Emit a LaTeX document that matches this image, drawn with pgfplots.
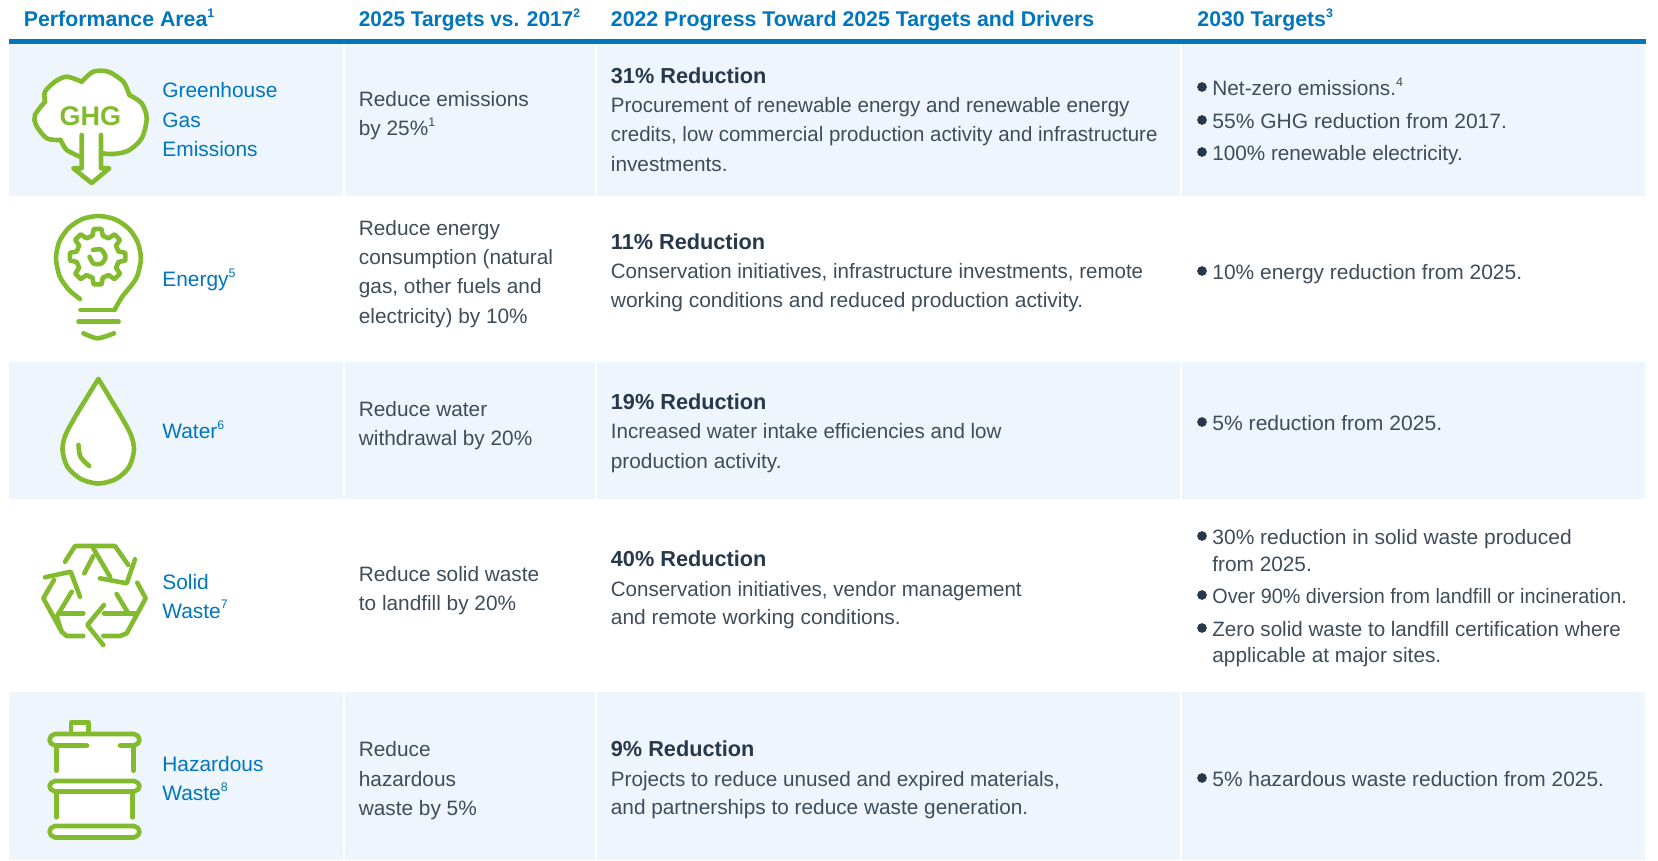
\documentclass[border=0pt]{standalone}
\usepackage{fontspec}
\usepackage{graphicx}
\usepackage{pgfplots}
\pgfplotsset{compat=1.18}
\setmainfont{Liberation Sans}
\definecolor{hdblue}{HTML}{0076BE}
\definecolor{rowbg}{HTML}{EEF5FC}
\definecolor{leaf}{HTML}{82BC2E}
\definecolor{body}{HTML}{3F4C5A}
\definecolor{dark}{HTML}{27384A}
% one unit of the axis is one pixel of the reference = 0.5pt
\newcommand{\su}[1]{\raisebox{0.44em}{\fontsize{6.2}{6.2}\selectfont #1}}
\newcommand{\bodyt}[4][1]{\node[anchor=base west,inner sep=0pt,yshift=-0.35pt,text=body,font=\fontsize{10.4}{12}\selectfont] at (axis cs:#2,#3) {\scalebox{#1}[1]{#4}};}
\newcommand{\boldt}[3]{\node[anchor=base west,inner sep=0pt,yshift=-0.35pt,text=dark,font=\fontsize{10.85}{12}\selectfont\bfseries] at (axis cs:#1,#2) {#3};}
\newcommand{\headt}[4][1]{\node[anchor=base west,inner sep=0pt,yshift=-0.2pt,text=hdblue,font=\fontsize{10.65}{12}\selectfont\bfseries] at (axis cs:#2,#3) {\scalebox{#1}[1]{#4}};}
\newcommand{\areat}[3]{\node[anchor=base west,inner sep=0pt,yshift=-0.2pt,text=hdblue,font=\fontsize{10.45}{12}\selectfont] at (axis cs:#1,#2) {#3};}
\pgfplotsset{icon/.style={draw=leaf,line width=2.3pt,line cap=round,line join=round},
  iconfill/.style={icon,fill=white}}
\begin{document}
\begin{tikzpicture}
\begin{axis}[scale only axis,width=829pt,height=430.5pt,
  xmin=0,xmax=1658,ymin=0,ymax=861,y dir=reverse,hide axis]
% page and rows
\addplot[fill=white,draw=none] coordinates {(0,0)(1658,0)(1658,861)(0,861)};
\addplot[fill=rowbg,draw=none] coordinates {(8.5,44)(1645,44)(1645,195.6)(8.5,195.6)};
\addplot[fill=rowbg,draw=none] coordinates {(8.5,361.6)(1645,361.6)(1645,499)(8.5,499)};
\addplot[fill=rowbg,draw=none] coordinates {(8.5,691.5)(1645,691.5)(1645,860)(8.5,860)};
\addplot[fill=hdblue,draw=none] coordinates {(8.5,39.5)(1646,39.5)(1646,44.5)(8.5,44.5)};
\addplot[white,line width=1pt] coordinates {(343.6,44.5)(343.6,860)};
\addplot[white,line width=1pt] coordinates {(596.4,44.5)(596.4,860)};
\addplot[white,line width=1pt] coordinates {(1181,44.5)(1181,860)};
% bullets
\addplot[only marks,mark=*,mark size=2.2pt,color=dark] coordinates {
 (1202,87)(1202,120)(1202,152)(1202,271)(1202,422)(1202,536)(1202,595)(1202,628)(1202,778)};
% GHG cloud
\addplot[fill=white,draw=none,smooth,tension=0.5] coordinates {(80,156.7)(66.7,150)(60.7,140)(46.7,138.3)(36,125)(35,115)(45,101.7)(45,91.7)(55,81.7)(66.7,76.7)(81.7,81.7)(93.3,71.7)(108.3,71.7)(123.3,81.7)(129.3,95)(141.7,103.3)(146.7,118.3)(141.7,138.3)(128.3,150.7)(113.3,154)(102.7,153.3)};
\addplot[icon,smooth] coordinates {(80,156.7)(66.7,150)(60.7,140)};
\addplot[icon,smooth] coordinates {(60.7,140)(46.7,138.3)(36,125)(35,115)(45,101.7)};
\addplot[icon,smooth] coordinates {(45,101.7)(45,91.7)(55,81.7)(66.7,76.7)(81.7,81.7)};
\addplot[icon,smooth] coordinates {(81.7,81.7)(93.3,71.7)(108.3,71.7)(123.3,81.7)(129.3,95)};
\addplot[icon,smooth] coordinates {(129.3,95)(141.7,103.3)(146.7,118.3)(141.7,138.3)(128.3,150.7)(113.3,154)(102.7,153.3)};
\addplot[iconfill] coordinates {(81.7,135)(81.7,168.3)(73.3,168.3)(91.7,183)(109.3,168.3)(101,168.3)(101,135)};
% bulb
\addplot[icon,smooth] coordinates {(80,299)(70,291)(63.6,283)(59.1,274.8)(56,258.5)(59.1,242.2)(68.3,228.4)(82.1,219.2)(98.4,216)(114.7,219.2)(128.5,228.4)(137.7,242.2)(140.9,258.5)(137.7,274.8)(133.2,283)(122,297)(115,309)};
\addplot[icon] coordinates {(80.4,310)(114.8,310)};
\addplot[icon] coordinates {(78.5,321.7)(118.6,321.7)};
\addplot[icon,smooth] coordinates {(83.4,333.3)(97.6,338.3)(114,333.3)};
\addplot[icon] coordinates {(118.5,251.5)(125.3,252.8)(125.3,260.6)(118.5,261.9)(116,267.8)(120,273.6)(114.5,279.1)(108.7,275.1)(102.8,277.6)(101.5,284.4)(93.7,284.4)(92.4,277.6)(86.5,275.1)(80.7,279.1)(75.2,273.6)(79.2,267.8)(76.7,261.9)(69.9,260.6)(69.9,252.8)(76.7,251.5)(79.2,245.6)(75.2,239.8)(80.7,234.3)(86.5,238.3)(92.4,235.8)(93.7,229)(101.5,229)(102.8,235.8)(108.7,238.3)(114.5,234.3)(120,239.8)(116,245.6)(118.5,251.5)};
\addplot[icon,smooth] coordinates {(93,250)(101,249.5)(105.5,256.7)(101.5,263.5)(93.5,263.5)(89.6,256.7)};
% water drop
\addplot[iconfill,smooth,tension=0.5] coordinates {(98.4,379)(110,398)(122,418)(131,435)(134,450)(129,467)(116,479)(98.4,483.5)(81,479)(67.5,467)(62.5,450)(65.5,435)(74.5,418)(86.5,398)(98.4,379)};
\addplot[icon,smooth] coordinates {(78.5,445)(80.4,456.7)(89.2,466)};
% recycle arrows
\addplot[icon] coordinates {(65,561.7)(75,546)(115,546)(128.3,565)};
\addplot[icon] coordinates {(135,559.3)(126.7,583.3)(100,578.3)};
\addplot[icon] coordinates {(93.3,548.3)(110,576.7)};
\addplot[icon] coordinates {(93.3,556)(84.3,573.3)};
\addplot[icon] coordinates {(83.3,636)(66.7,636)(61.7,631.7)(43.3,598.3)(54,580)};
\addplot[icon] coordinates {(45,577.3)(70.7,571.7)(80,596.7)};
\addplot[icon] coordinates {(71.7,591.7)(56.7,616.7)(61.7,631.7)};
\addplot[icon] coordinates {(58.3,613.3)(83.3,613.3)};
\addplot[icon] coordinates {(137.3,582.7)(145.7,598.3)(126.7,633.3)(120,636)(103.3,636)};
\addplot[icon] coordinates {(103.3,645)(87.3,625)(104,605)};
\addplot[icon] coordinates {(104,613.3)(136.7,613.3)};
\addplot[icon] coordinates {(116.7,594)(128.3,613.3)};
% barrel
\addplot[fill=white,draw=none] coordinates {(56,735)(133,735)(133,835)(56,835)};
\addplot[iconfill] coordinates {(71,732)(71,722.5)(88.5,722.5)(88.5,732)};
\addplot[icon] coordinates {(87,745.5)(55,745.5)(51,743.5)(49.5,739.8)(51,736)(55,734)(134,734)(138,736)(139.5,739.8)(138,743.5)(134,745.5)(120,745.5)};
\addplot[icon] coordinates {(56.6,746)(56.6,770.7)};
\addplot[icon] coordinates {(133.2,746)(133.2,770.7)};
\addplot[iconfill] coordinates {(55,781)(134,781)(138,783)(139.5,786.3)(138,789.5)(134,791.5)(55,791.5)(51,789.5)(49.5,786.3)(51,783)(55,781)};
\addplot[icon] coordinates {(56.6,792)(56.6,817.3)};
\addplot[icon] coordinates {(132.4,792)(132.4,817.3)};
\addplot[iconfill] coordinates {(55,826)(134,826)(138,828)(139.5,831.7)(138,835.3)(134,837.5)(55,837.5)(51,835.3)(49.5,831.7)(51,828)(55,826)};
\node[anchor=center,inner sep=0pt,text=leaf,font=\fontsize{13.5}{13.5}\selectfont\bfseries] at (axis cs:90.3,116.5) {GHG};
% header
\headt{23.5}{26}{Performance Area\su{1}}
\headt[0.977]{358.5}{26}{2025 Targets vs. 2017\su{2}}
\headt{610.5}{26}{2022 Progress Toward 2025 Targets and Drivers}
\headt{1197}{26}{2030 Targets\su{3}}
% performance area
\areat{162}{97}{Greenhouse}
\areat{162}{127}{Gas}
\areat{162}{156}{Emissions}
\areat{162}{286.5}{Energy\su{5}}
\areat{162}{438}{Water\su{6}}
\areat{162}{588.7}{Solid}
\areat{162}{617.7}{Waste\su{7}}
\areat{162}{771}{Hazardous}
\areat{162}{800}{Waste\su{8}}
% 2025 targets
\bodyt{358.5}{106}{Reduce emissions}
\bodyt{358.5}{135}{by 25\%\su{1}}
\bodyt{358.5}{234.5}{Reduce energy}
\bodyt{358.5}{263.5}{consumption (natural}
\bodyt{358.5}{293}{gas, other fuels and}
\bodyt{358.5}{323}{electricity) by 10\%}
\bodyt{358.5}{415.5}{Reduce water}
\bodyt{358.5}{444.5}{withdrawal by 20\%}
\bodyt{358.5}{581}{Reduce solid waste}
\bodyt{358.5}{610}{to landfill by 20\%}
\bodyt{358.5}{756}{Reduce}
\bodyt{358.5}{786}{hazardous}
\bodyt{358.5}{815}{waste by 5\%}
% 2022 progress
\boldt{610.5}{82.5}{31\% Reduction}
\bodyt[0.988]{610.5}{112}{Procurement of renewable energy and renewable energy}
\bodyt[0.983]{610.5}{140.5}{credits, low commercial production activity and infrastructure}
\bodyt{610.5}{170.5}{investments.}
\boldt{610.5}{248.5}{11\% Reduction}
\bodyt[0.986]{610.5}{278}{Conservation initiatives, infrastructure investments, remote}
\bodyt[1.007]{610.5}{307}{working conditions and reduced production activity.}
\boldt{610.5}{408.5}{19\% Reduction}
\bodyt[0.989]{610.5}{438}{Increased water intake efficiencies and low}
\bodyt{610.5}{467.5}{production activity.}
\boldt{610.5}{565.5}{40\% Reduction}
\bodyt[0.987]{610.5}{595.5}{Conservation initiatives, vendor management}
\bodyt[1.007]{610.5}{624}{and remote working conditions.}
\boldt{610.5}{755.5}{9\% Reduction}
\bodyt[0.993]{610.5}{785.5}{Projects to reduce unused and expired materials,}
\bodyt{610.5}{814}{and partnerships to reduce waste generation.}
% 2030 targets
\bodyt{1212}{95}{Net-zero emissions.\su{4}}
\bodyt[1.011]{1212}{127.5}{55\% GHG reduction from 2017.}
\bodyt[0.995]{1212}{160}{100\% renewable electricity.}
\bodyt[1.007]{1212}{279}{10\% energy reduction from 2025.}
\bodyt[1.014]{1212}{430}{5\% reduction from 2025.}
\bodyt[1.009]{1212}{544}{30\% reduction in solid waste produced}
\bodyt{1212}{571}{from 2025.}
\bodyt[0.951]{1212}{603}{Over 90\% diversion from landfill or incineration.}
\bodyt[0.99]{1212}{636}{Zero solid waste to landfill certification where}
\bodyt{1212}{662}{applicable at major sites.}
\bodyt[1.005]{1212}{785.5}{5\% hazardous waste reduction from 2025.}
\end{axis}
\end{tikzpicture}
\end{document}
